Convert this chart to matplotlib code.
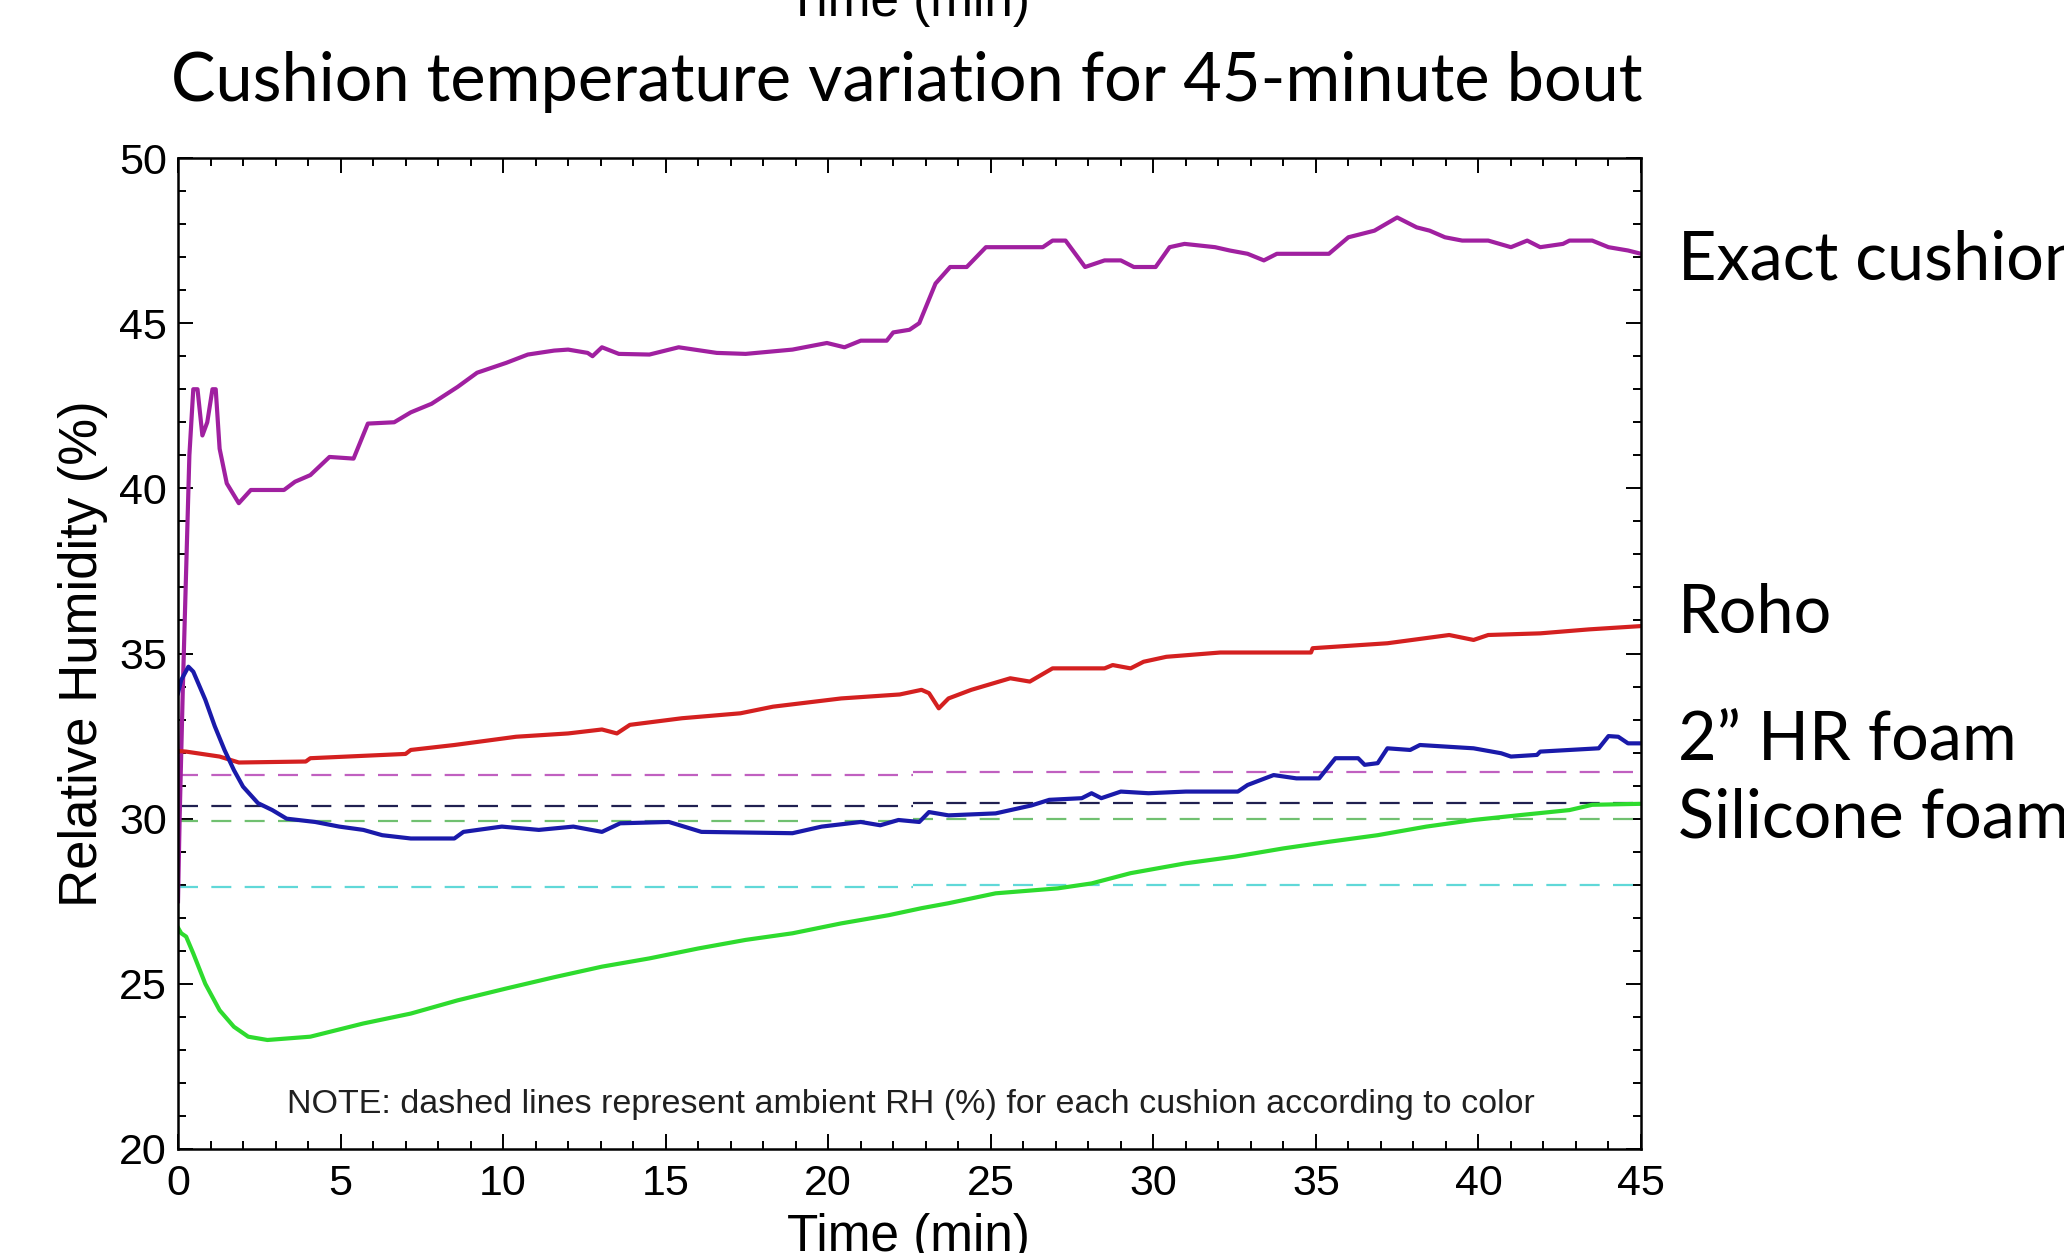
import matplotlib
matplotlib.use("Agg")
import matplotlib.pyplot as plt
from matplotlib.ticker import MultipleLocator

# Exact cushion (magenta)
t_exact = [0, 0.05, 0.15, 0.25, 0.35, 0.47, 0.6, 0.75, 0.9, 1.06, 1.16, 1.28, 1.5, 1.87, 2.24,
           3.26, 3.6, 4.07, 4.66, 5.4, 5.84, 6.65, 7.16, 7.8, 8.6, 9.2, 10.1, 10.76, 11.57, 12.0,
           12.6, 12.75, 13.04, 13.56, 14.5, 15.4, 16.57, 17.46, 18.9, 19.96, 20.5, 21.0, 21.8, 22.0,
           22.5, 22.8, 23.3, 23.75, 24.26, 24.85, 26.6, 26.9, 27.3, 27.9, 28.5, 29.0, 29.4, 30.07,
           30.5, 30.96, 31.9, 32.35, 32.9, 33.4, 33.8, 35.4, 36.0, 36.8, 37.5, 38.1, 38.5, 38.97,
           39.5, 40.3, 41.0, 41.5, 41.9, 42.6, 42.8, 43.5, 44.0, 44.6, 45.0]
rh_exact = [27.5, 30.0, 34.0, 37.5, 41.0, 43.0, 43.0, 41.6, 42.0, 43.0, 43.0, 41.2, 40.15, 39.55, 39.95,
            39.95, 40.2, 40.4, 40.95, 40.9, 41.96, 42.0, 42.3, 42.56, 43.07, 43.5, 43.8, 44.05, 44.17, 44.2,
            44.1, 44.0, 44.27, 44.07, 44.05, 44.27, 44.1, 44.07, 44.2, 44.4, 44.27, 44.47, 44.47, 44.72,
            44.8, 45.0, 46.2, 46.7, 46.7, 47.3, 47.3, 47.5, 47.5, 46.7, 46.9, 46.9, 46.7, 46.7,
            47.3, 47.4, 47.3, 47.2, 47.1, 46.9, 47.1, 47.1, 47.6, 47.8, 48.2, 47.9, 47.8, 47.6,
            47.5, 47.5, 47.3, 47.5, 47.3, 47.4, 47.5, 47.5, 47.3, 47.2, 47.1]

# Roho (red)
t_roho = [0, 0.25, 1.28, 1.87, 3.93, 4.07, 7.0, 7.16, 8.5, 10.4, 12.0, 13.04, 13.5, 13.9, 15.5,
          17.3, 18.3, 20.4, 22.2, 22.87, 23.1, 23.4, 23.7, 24.4, 25.6, 26.2, 26.9, 28.5, 28.75,
          29.3, 29.7, 30.4, 32.06, 34.85, 34.9, 37.2, 39.1, 39.85, 40.3, 41.9, 43.4, 45.0]
rh_roho = [32.05, 32.03, 31.88, 31.7, 31.73, 31.83, 31.96, 32.08, 32.23, 32.48, 32.58, 32.7, 32.58, 32.84, 33.04,
           33.19, 33.39, 33.64, 33.76, 33.9, 33.8, 33.34, 33.64, 33.9, 34.25, 34.15, 34.55, 34.55, 34.65,
           34.55, 34.75, 34.9, 35.03, 35.03, 35.16, 35.31, 35.56, 35.41, 35.56, 35.61, 35.73, 35.83]

# 2" HR foam (blue)
t_hr = [0, 0.1, 0.32, 0.47, 0.84, 1.13, 1.43, 1.72, 2.0, 2.46, 2.9, 3.34, 4.22, 4.96, 5.7, 6.28,
        7.16, 8.5, 8.78, 9.96, 11.1, 12.16, 13.04, 13.6, 15.1, 16.1, 18.9, 19.8, 21.0, 21.6, 22.16,
        22.8, 23.1, 23.7, 25.15, 26.25, 26.8, 27.8, 28.1, 28.4, 29.0, 29.85, 31.0, 32.6, 32.9, 33.7,
        34.4, 35.1, 35.6, 36.3, 36.5, 36.9, 37.2, 37.9, 38.2, 39.85, 40.7, 41.0, 41.8, 41.9, 43.7,
        44.0, 44.3, 44.6, 45.0]
rh_hr = [33.8, 34.2, 34.6, 34.45, 33.6, 32.8, 32.08, 31.47, 30.97, 30.47, 30.26, 30.0, 29.9, 29.76, 29.66, 29.5,
         29.4, 29.4, 29.6, 29.76, 29.66, 29.76, 29.6, 29.86, 29.9, 29.6, 29.56, 29.76, 29.9, 29.8, 29.96,
         29.9, 30.2, 30.1, 30.16, 30.4, 30.57, 30.62, 30.77, 30.62, 30.82, 30.77, 30.82, 30.82, 31.02, 31.32,
         31.22, 31.22, 31.83, 31.83, 31.63, 31.68, 32.13, 32.08, 32.23, 32.13, 31.98, 31.88, 31.93, 32.03, 32.13,
         32.5, 32.48, 32.28, 32.28]

# Silicone foam (green)
t_sil = [0, 0.1, 0.25, 0.47, 0.84, 1.28, 1.72, 2.16, 2.75, 4.07, 5.7, 7.16, 8.6, 10.1, 11.57, 13.04,
         14.5, 16.0, 17.46, 18.9, 20.4, 21.87, 22.87, 23.7, 25.15, 27.06, 28.1, 29.3, 31.0, 32.5, 34.0,
         35.4, 36.9, 38.4, 39.85, 41.3, 42.8, 43.5, 45.0]
rh_sil = [26.7, 26.53, 26.43, 25.92, 25.0, 24.2, 23.7, 23.4, 23.3, 23.4, 23.8, 24.1, 24.5, 24.86, 25.2, 25.52,
          25.77, 26.07, 26.33, 26.53, 26.83, 27.08, 27.29, 27.44, 27.74, 27.89, 28.04, 28.35, 28.65, 28.85, 29.1,
          29.3, 29.5, 29.76, 29.96, 30.11, 30.26, 30.42, 30.45]

# ambient RH (dashed), value before / after the change at about 22.6 min
t_ambient = [0, 22.6, 45]
amb_magenta = [31.32, 31.40]
amb_navy = [30.38, 30.46]
amb_green = [29.94, 29.98]
amb_cyan = [27.94, 28.00]

labels = ["Exact cushion", "Roho", "2\u201d HR foam", "Silicone foam"]

W, H = 2064, 1253
fig = plt.figure(figsize=(W / 100, H / 100), dpi=100)
ax = fig.add_axes([178 / W, 104 / H, 1463 / W, 991 / H])

axfont = "Liberation Sans"


def ambient(vals, color):
    ax.plot(t_ambient[:2], [vals[0], vals[0]], color=color, lw=1.6, dashes=(9, 6))
    ax.plot(t_ambient[1:], [vals[1], vals[1]], color=color, lw=1.6, dashes=(9, 6))


ambient(amb_magenta, "#c060c0")
ambient(amb_navy, "#202050")
ambient(amb_green, "#70c070")
ambient(amb_cyan, "#60d8d8")

ax.plot(t_exact, rh_exact, color="#a020a0", lw=3.0)
ax.plot(t_roho, rh_roho, color="#d42020", lw=3.0)
ax.plot(t_hr, rh_hr, color="#1a1aaa", lw=3.0)
ax.plot(t_sil, rh_sil, color="#2edb2e", lw=3.0)

ax.set_xlim(0, 45)
ax.set_ylim(20, 50)
ax.xaxis.set_major_locator(MultipleLocator(5))
ax.xaxis.set_minor_locator(MultipleLocator(1))
ax.yaxis.set_major_locator(MultipleLocator(5))
ax.yaxis.set_minor_locator(MultipleLocator(1))
ax.tick_params(which="both", direction="in", top=True, right=True, width=1.4, color="black")
ax.tick_params(which="major", length=11)
ax.tick_params(which="minor", length=6)
ax.tick_params(axis="x", pad=11)
ax.tick_params(axis="y", pad=8)
for lab in ax.get_xticklabels() + ax.get_yticklabels():
    lab.set_fontfamily(axfont)
    lab.set_fontsize(31)
for sp in ax.spines.values():
    sp.set_linewidth(1.8)

ax.set_ylabel("Relative Humidity (%)", fontsize=38, family=axfont, labelpad=8)
ax.text(22.55, 21.36, "NOTE: dashed lines represent ambient RH (%) for each cushion according to color",
        ha="center", va="center", fontsize=24.5, family=axfont, color="#202020")

# x label (bottom, partly cut) and the cut-off copy at the top
fig.text(908 / W, 2 / H, "Time (min)", ha="center", va="baseline", fontsize=37, family=axfont)
fig.text(908 / W, 1 - 16 / H, "Time (min)", ha="center", va="baseline", fontsize=37, family=axfont)

fig.text(907 / W, 1 - 101 / H, "Cushion temperature variation for 45-minute bout",
         ha="center", va="baseline", fontsize=48, family="Lato")

label_y = [279, 633, 760, 838]
for txt, yb in zip(labels, label_y):
    fig.text(1678 / W, 1 - yb / H, txt, ha="left", va="baseline", fontsize=48, family="Lato")

fig.savefig("out.png", dpi=100)
